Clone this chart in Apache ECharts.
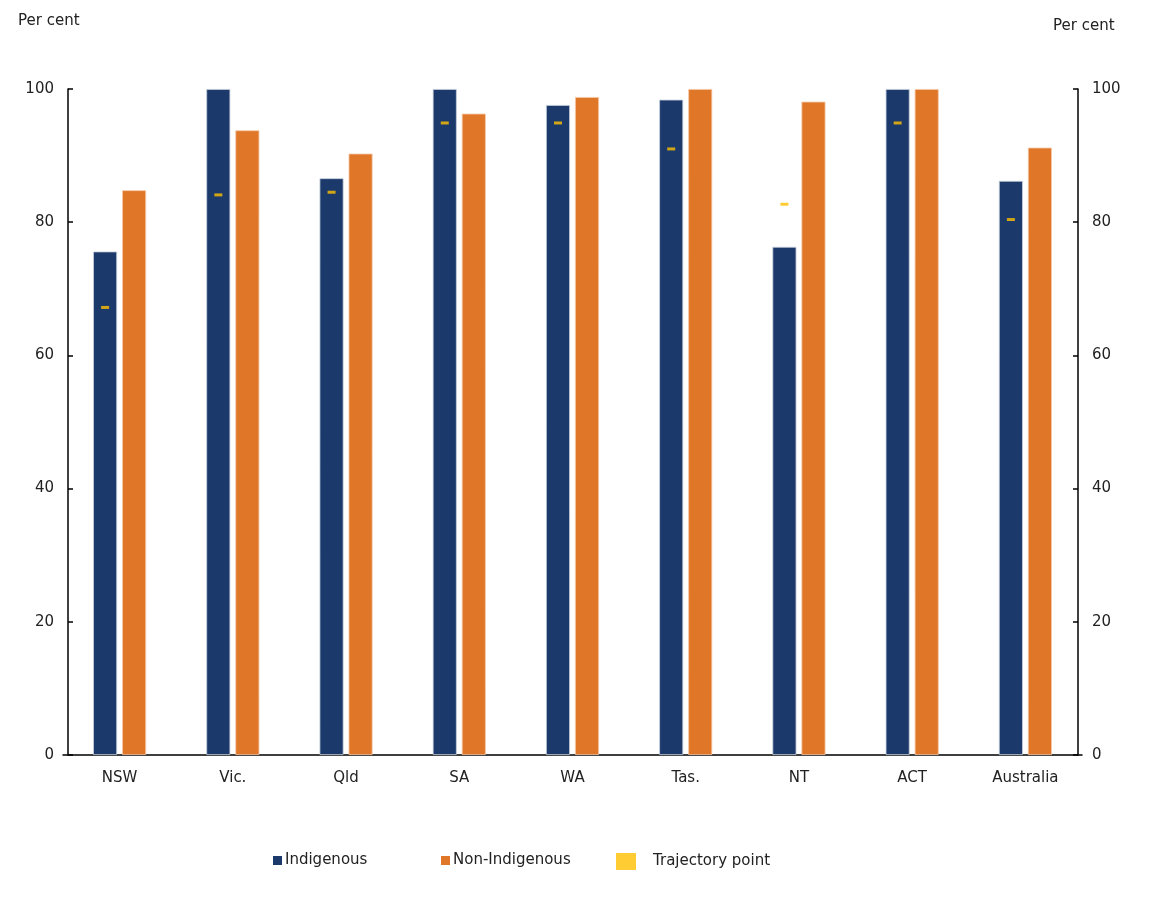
<!DOCTYPE html>
<html>
<head>
<meta charset="utf-8">
<script src="https://cdn.jsdelivr.net/npm/echarts@6/dist/echarts.min.js"></script>
<style>html,body{margin:0;padding:0;background:#fff}#c{width:1150px;height:899px}</style>
</head>
<body>
<div id="c"></div>
<script>
const categories = ['NSW', 'Vic.', 'Qld', 'SA', 'WA', 'Tas.', 'NT', 'ACT', 'Australia'];
const indigenous = [75.6, 100, 86.6, 100, 97.6, 98.4, 76.3, 100, 86.2];
const nonIndigenous = [84.8, 93.8, 90.3, 96.3, 98.8, 100, 98.1, 100, 91.2];
const trajectory = [67.2, 84.1, 84.5, 94.9, 94.9, 91.0, 82.7, 94.9, 80.4];

const FONT = '"DejaVu Sans", sans-serif';
const chart = echarts.init(document.getElementById('c'));
const yCommon = {
  type: 'value', min: 0, max: 100, interval: 20,
  axisLine: {show: true, lineStyle: {color: '#000', width: 1.5}},
  axisTick: {show: true, inside: true, length: 5, lineStyle: {color: '#000', width: 1.5}},
  splitLine: {show: false},
  axisLabel: {color: '#222', fontSize: 15, fontFamily: FONT, margin: 14}
};
const legendText = {fontSize: 15, fontFamily: FONT, color: '#222'};
chart.setOption({
  animation: false,
  backgroundColor: '#fff',
  grid: {left: 63, right: 68, top: 89, bottom: 144},
  graphic: [
    {type: 'text', left: 18, top: 14, style: {text: 'Per cent', fontSize: 15, fontFamily: FONT, fill: '#222'}},
    {type: 'text', left: 1053, top: 19, style: {text: 'Per cent', fontSize: 15, fontFamily: FONT, fill: '#222'}}
  ],
  legend: [
    {data: ['Indigenous'], left: 268, top: 848, itemWidth: 9, itemHeight: 9, icon: 'rect',
     itemStyle: {borderWidth: 0},
     textStyle: Object.assign({padding: [0,0,0,-2]}, legendText)},
    {data: ['Non-Indigenous'], left: 436, top: 848, itemWidth: 9, itemHeight: 9, icon: 'rect',
     itemStyle: {borderWidth: 0},
     textStyle: Object.assign({padding: [0,0,0,-2]}, legendText)},
    {data: ['Trajectory point'], left: 611, top: 848, itemWidth: 20, itemHeight: 17, icon: 'rect',
     itemStyle: {borderWidth: 0},
     textStyle: Object.assign({padding: [0,0,0,12]}, legendText)}
  ],
  xAxis: {
    type: 'category', data: categories,
    axisLine: {show: true, lineStyle: {color: '#000', width: 1.5}},
    axisTick: {show: false},
    axisLabel: {color: '#222', fontSize: 15, fontFamily: FONT, margin: 16}
  },
  yAxis: [
    Object.assign({}, yCommon, {position: 'left', offset: -5}),
    Object.assign({}, yCommon, {position: 'right', offset: -4})
  ],
  series: [
    {name: 'Indigenous', type: 'bar', data: indigenous, barWidth: 24, barGap: '21%',
     itemStyle: {color: '#1B3A6B', borderColor: '#c8cfdc', borderWidth: 0.8}},
    {name: 'Non-Indigenous', type: 'bar', data: nonIndigenous, barWidth: 24, barGap: '21%',
     itemStyle: {color: '#E07628', borderColor: '#f5c9a8', borderWidth: 0.8}},
    {name: 'Trajectory point', type: 'scatter', data: trajectory, symbol: 'rect',
     symbolSize: [8, 3], symbolOffset: [-14.5, 0], z: 5,
     itemStyle: {color: '#FFC000'}}
  ]
});
</script>
</body>
</html>
